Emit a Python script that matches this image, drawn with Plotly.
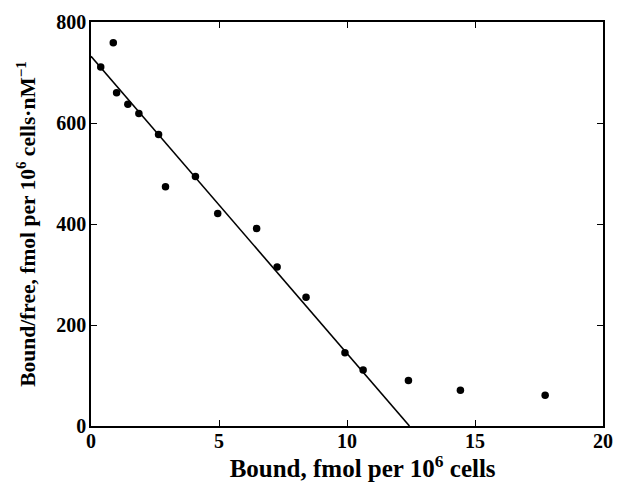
import plotly.graph_objects as go

bound = [0.38, 0.87, 1.0, 1.44, 1.87, 2.64, 2.91, 4.08, 4.95, 6.47, 7.27, 8.40, 9.92, 10.63, 12.4, 14.43, 17.74]
bound_free = [711, 759, 660, 637, 619, 577, 474, 494, 421, 391, 315, 255, 145, 111, 90, 71, 61]

fit_x = [0, 12.44]
fit_y = [732, 0]

x_ticks = [0, 5, 10, 15, 20]
y_ticks = [0, 200, 400, 600, 800]

fam = "Liberation Serif, Times New Roman, serif"
x_title_font = dict(family=fam, size=25, color="black")
y_title_font = dict(family=fam, size=21.5, color="black")
tick_font = dict(family=fam, size=20, color="black")

fig = go.Figure()
fig.add_trace(go.Scatter(x=fit_x, y=fit_y, mode="lines",
                         line=dict(color="black", width=1.6), showlegend=False, cliponaxis=False))
fig.add_trace(go.Scatter(x=bound, y=bound_free, mode="markers",
                         marker=dict(color="black", size=7.5), showlegend=False))

axis_common = dict(showgrid=False, zeroline=False, showline=True, linecolor="black", linewidth=1.5,
                   mirror="ticks", ticks="inside", ticklen=6, tickwidth=1.3, tickcolor="black",
                   tickfont=tick_font, automargin=False)

fig.update_xaxes(range=[0, 20], tickvals=x_ticks, ticktext=[f"<b>{v}</b>" for v in x_ticks],
                 ticklabelstandoff=-4,
                 title=dict(text="&nbsp;&nbsp;&nbsp;&nbsp;&nbsp;<b>Bound, fmol per 10<sup>6</sup> cells</b>",
                            font=x_title_font),
                 **axis_common)
fig.update_yaxes(range=[0, 800], tickvals=y_ticks, ticktext=[f"<b>{v}</b>" for v in y_ticks],
                 ticklabelstandoff=-1,
                 title=dict(text="<b>Bound/free, fmol per 10<sup>6</sup> cells·nM<sup>−1</sup></b>",
                            font=y_title_font),
                 **axis_common)

fig.update_layout(width=617, height=482, margin=dict(l=91, r=14, t=22, b=56),
                  paper_bgcolor="white", plot_bgcolor="white", font=tick_font)

fig.write_html("out.html", config={"displayModeBar": False},
               post_script="document.body.style.margin='0';document.body.style.overflow='hidden';")
